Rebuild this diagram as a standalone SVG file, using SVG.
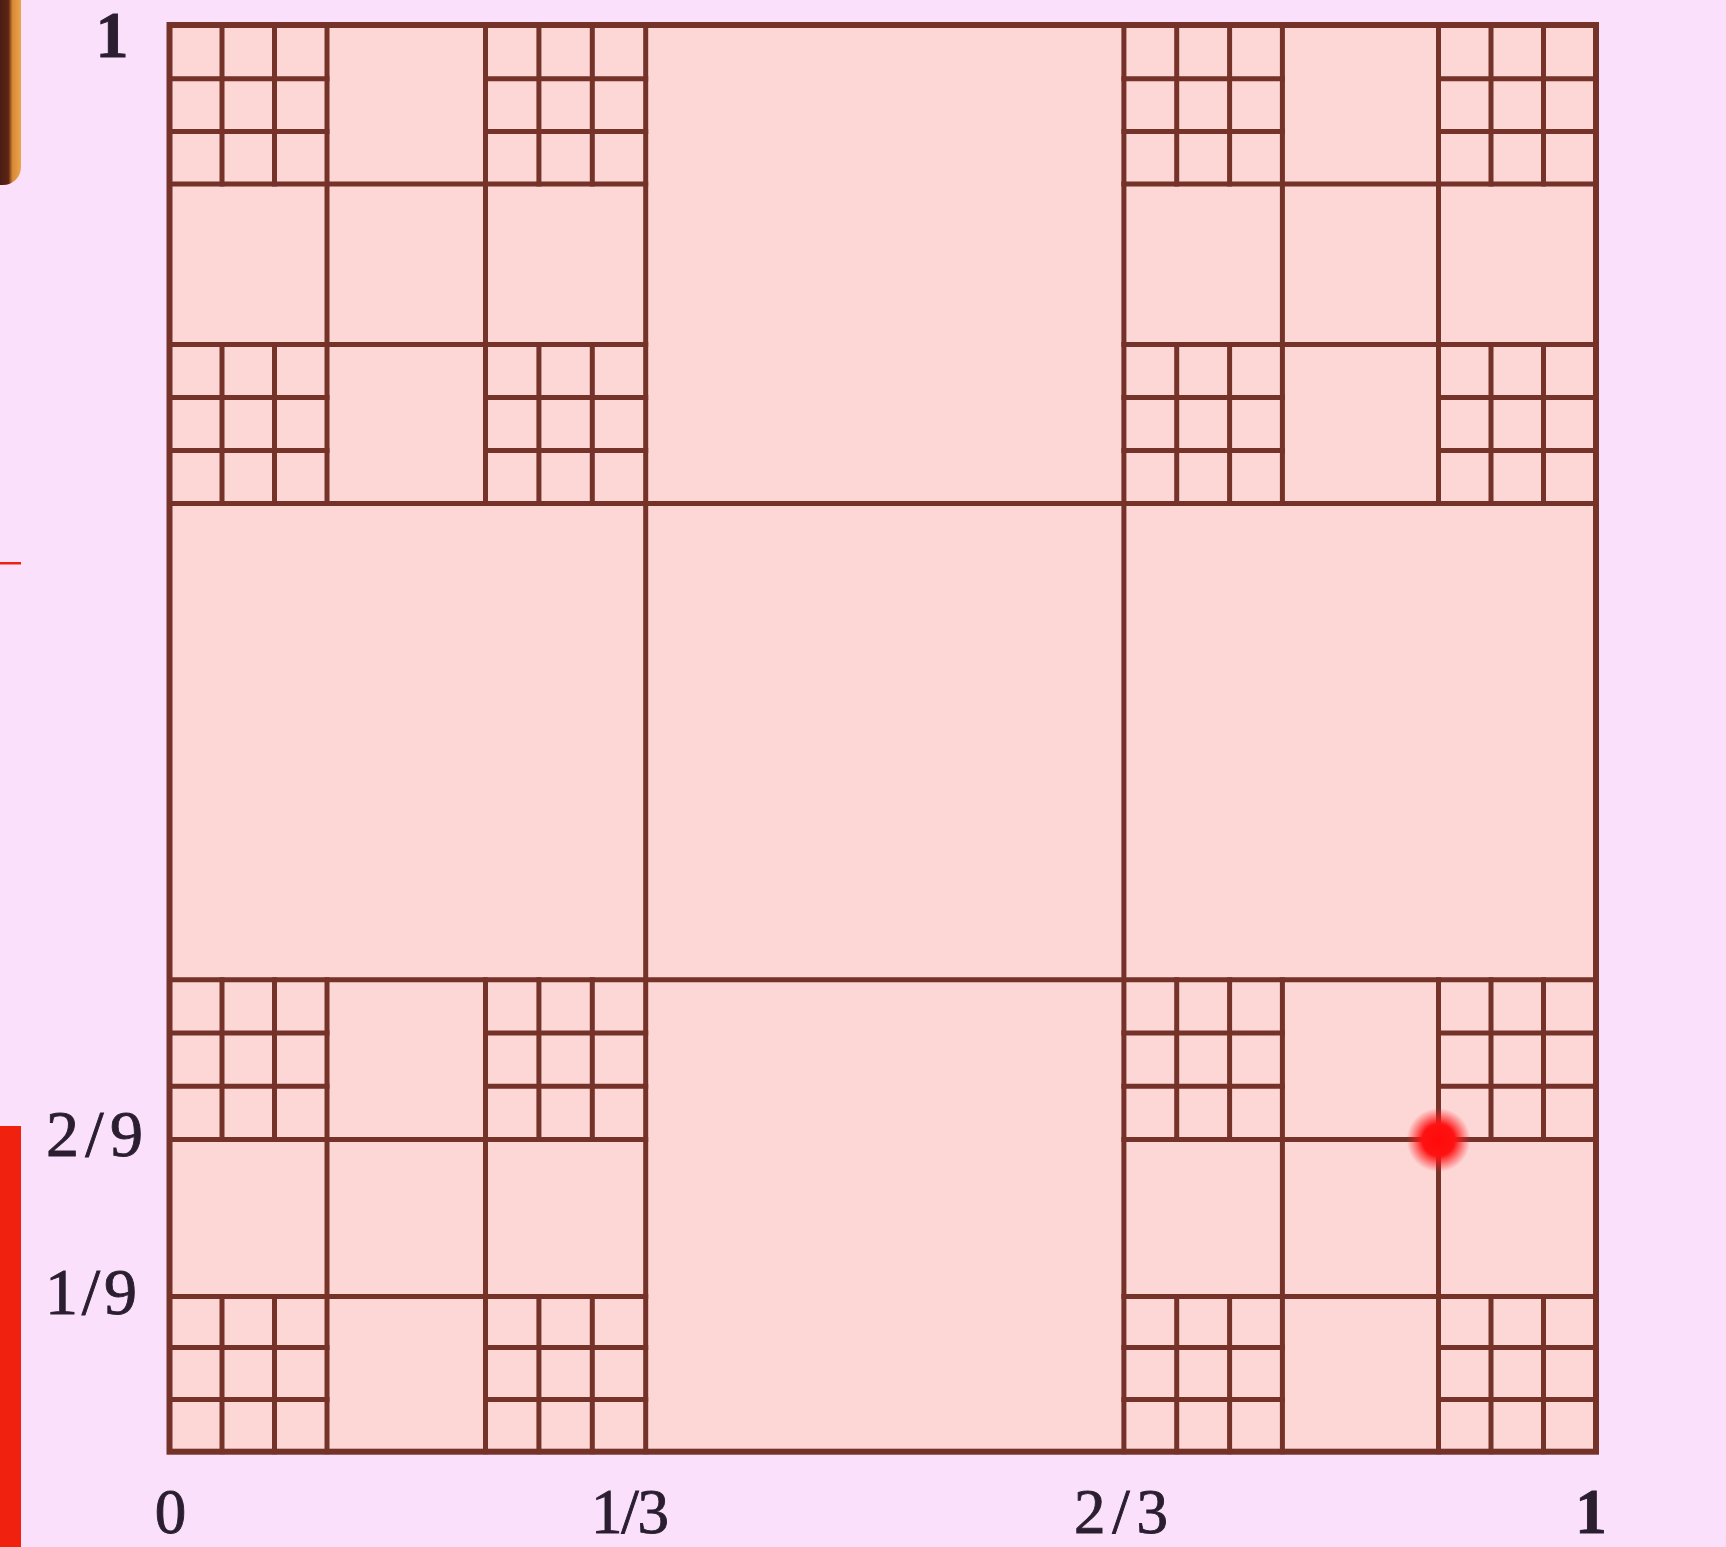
<svg xmlns="http://www.w3.org/2000/svg" width="1726" height="1547" viewBox="0 0 1726 1547">
  <defs>
    <style>
      .ln { stroke: #743229; stroke-width: 5; fill: none; stroke-linecap: square; }
      .outer { stroke: #743229; stroke-width: 6; fill: #fdd6d6; }
      .lbl { font-family: "Liberation Serif", "DejaVu Serif", serif; font-size: 66px; fill: #2a1e30; stroke: #2a1e30; stroke-width: 0.9; }
      .bot { font-size: 63px; }
    </style>
    <radialGradient id="dot" cx="0.5" cy="0.5" r="0.5">
      <stop offset="0" stop-color="#ff0a0a"/>
      <stop offset="0.5" stop-color="#ff1212"/>
      <stop offset="1" stop-color="#ff2020" stop-opacity="0"/>
    </radialGradient>
    <linearGradient id="edge" gradientUnits="userSpaceOnUse" x1="0" y1="0" x2="21" y2="0">
      <stop offset="0" stop-color="#4a1c14"/>
      <stop offset="0.4" stop-color="#5e2414"/>
      <stop offset="0.6" stop-color="#d98a35"/>
      <stop offset="1" stop-color="#eba54e"/>
    </linearGradient>
  </defs>

  <rect x="0" y="0" width="1726" height="1547" fill="#fbe0fc"/>

  <g id="decor">
    <rect x="-30" y="-30" width="51" height="215" rx="18" fill="url(#edge)"/>
    <rect x="0" y="1126" width="21" height="421" fill="#f0220f"/>
    <rect x="0" y="562" width="21" height="2.5" fill="#ee2211"/>
  </g>

  <g id="carpet">
    <rect class="outer" x="169.5" y="25" width="1426.5" height="1426.7"/>

    <g id="level1">
      <path class="ln" d="M645.7 25 V1451.7 M1123.9 25 V1451.7 M169.5 503.5 H1596 M169.5 979.7 H1596"/>
    </g>

    <g id="level2">
      <path class="ln" d="M327 25 V503.5 M327 979.7 V1451.7
                          M485.5 25 V503.5 M485.5 979.7 V1451.7
                          M1282.4 25 V503.5 M1282.4 979.7 V1451.7
                          M1438.5 25 V503.5 M1438.5 979.7 V1451.7
                          M169.5 184 H645.7 M1123.9 184 H1596
                          M169.5 344.6 H645.7 M1123.9 344.6 H1596
                          M169.5 1139.5 H645.7 M1123.9 1139.5 H1596
                          M169.5 1296.5 H645.7 M1123.9 1296.5 H1596"/>
    </g>

    <g id="level3">
      <path class="ln" d="
        M222 25 V184 M222 344.6 V503.5 M222 979.7 V1139.5 M222 1296.5 V1451.7
        M274.5 25 V184 M274.5 344.6 V503.5 M274.5 979.7 V1139.5 M274.5 1296.5 V1451.7
        M538.9 25 V184 M538.9 344.6 V503.5 M538.9 979.7 V1139.5 M538.9 1296.5 V1451.7
        M592.3 25 V184 M592.3 344.6 V503.5 M592.3 979.7 V1139.5 M592.3 1296.5 V1451.7
        M1176.7 25 V184 M1176.7 344.6 V503.5 M1176.7 979.7 V1139.5 M1176.7 1296.5 V1451.7
        M1229.6 25 V184 M1229.6 344.6 V503.5 M1229.6 979.7 V1139.5 M1229.6 1296.5 V1451.7
        M1491 25 V184 M1491 344.6 V503.5 M1491 979.7 V1139.5 M1491 1296.5 V1451.7
        M1543.5 25 V184 M1543.5 344.6 V503.5 M1543.5 979.7 V1139.5 M1543.5 1296.5 V1451.7
        M169.5 78.7 H327 M485.5 78.7 H645.7 M1123.9 78.7 H1282.4 M1438.5 78.7 H1596
        M169.5 131.5 H327 M485.5 131.5 H645.7 M1123.9 131.5 H1282.4 M1438.5 131.5 H1596
        M169.5 397.6 H327 M485.5 397.6 H645.7 M1123.9 397.6 H1282.4 M1438.5 397.6 H1596
        M169.5 450.5 H327 M485.5 450.5 H645.7 M1123.9 450.5 H1282.4 M1438.5 450.5 H1596
        M169.5 1033 H327 M485.5 1033 H645.7 M1123.9 1033 H1282.4 M1438.5 1033 H1596
        M169.5 1086.3 H327 M485.5 1086.3 H645.7 M1123.9 1086.3 H1282.4 M1438.5 1086.3 H1596
        M169.5 1347.5 H327 M485.5 1347.5 H645.7 M1123.9 1347.5 H1282.4 M1438.5 1347.5 H1596
        M169.5 1399.5 H327 M485.5 1399.5 H645.7 M1123.9 1399.5 H1282.4 M1438.5 1399.5 H1596"/>
    </g>

    <circle id="point" cx="1438.5" cy="1140" r="32" fill="url(#dot)"/>
  </g>

  <g id="labels">
    <text class="lbl" x="112" y="57" text-anchor="middle" font-weight="bold" stroke-width="0">1</text>
    <text class="lbl" x="46" y="1156" textLength="97" lengthAdjust="spacing">2/9</text>
    <text class="lbl" x="45" y="1314" textLength="92" lengthAdjust="spacing">1/9</text>
    <text class="lbl bot" x="170.5" y="1533" text-anchor="middle">0</text>
    <text class="lbl bot" x="591" y="1533" textLength="78" lengthAdjust="spacing">1/3</text>
    <text class="lbl bot" x="1074" y="1533" textLength="94" lengthAdjust="spacing">2/3</text>
    <text class="lbl bot" x="1591" y="1533" text-anchor="middle" font-weight="bold" stroke-width="0">1</text>
  </g>
</svg>
